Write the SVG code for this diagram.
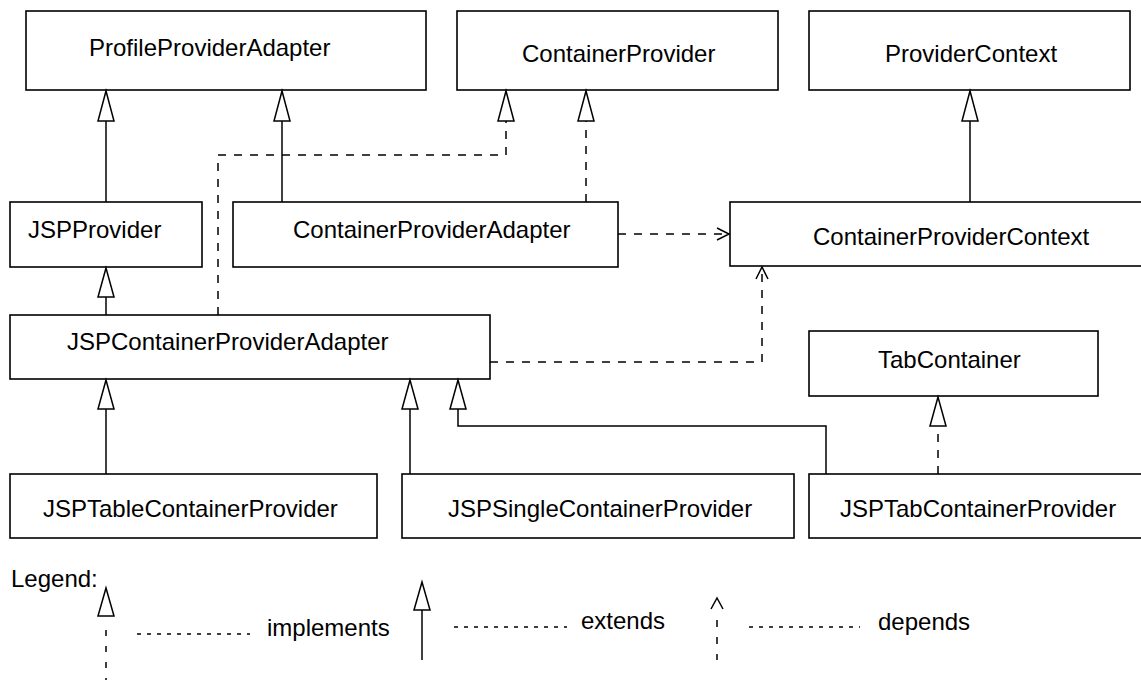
<svg xmlns="http://www.w3.org/2000/svg" width="1141" height="680" viewBox="0 0 1141 680">
<defs>
<style>
.box{fill:#fff;stroke:#000;stroke-width:1.6}
.lbl{font-family:"Liberation Sans",Arial,Helvetica,sans-serif;font-size:24px;fill:#000}
.solid{fill:none;stroke:#000;stroke-width:1.5}
.dash{fill:none;stroke:#000;stroke-width:1.5;stroke-dasharray:8 8}
.dot{fill:none;stroke:#000;stroke-width:1.3;stroke-dasharray:4 6}
.tri{fill:#fff;stroke:#000;stroke-width:1.5;stroke-linejoin:miter}
.open{fill:none;stroke:#000;stroke-width:1.5}
</style>
</defs>
<rect width="1141" height="680" fill="#fff"/>
<g id="ProfileProviderAdapter"><rect class="box" x="26" y="11" width="400" height="79"/><text class="lbl" x="89" y="56">ProfileProviderAdapter</text></g>
<g id="ContainerProvider"><rect class="box" x="457" y="11" width="321" height="79"/><text class="lbl" x="522" y="62">ContainerProvider</text></g>
<g id="ProviderContext"><rect class="box" x="809" y="11" width="321" height="79"/><text class="lbl" x="885" y="62">ProviderContext</text></g>
<g id="JSPProvider"><rect class="box" x="10" y="202" width="192" height="65"/><text class="lbl" x="28" y="238">JSPProvider</text></g>
<g id="ContainerProviderAdapter"><rect class="box" x="233" y="202" width="385" height="65"/><text class="lbl" x="293" y="238">ContainerProviderAdapter</text></g>
<g id="ContainerProviderContext"><rect class="box" x="730" y="202" width="440" height="64"/><text class="lbl" x="813" y="245">ContainerProviderContext</text></g>
<g id="JSPContainerProviderAdapter"><rect class="box" x="10" y="315" width="480" height="64"/><text class="lbl" x="67" y="350">JSPContainerProviderAdapter</text></g>
<g id="TabContainer"><rect class="box" x="809" y="331" width="289" height="65"/><text class="lbl" x="878" y="368">TabContainer</text></g>
<g id="JSPTableContainerProvider"><rect class="box" x="10" y="474" width="367" height="64"/><text class="lbl" x="43" y="517">JSPTableContainerProvider</text></g>
<g id="JSPSingleContainerProvider"><rect class="box" x="402" y="474" width="392" height="64"/><text class="lbl" x="448" y="517">JSPSingleContainerProvider</text></g>
<g id="JSPTabContainerProvider"><rect class="box" x="809" y="474" width="342" height="64"/><text class="lbl" x="840" y="517">JSPTabContainerProvider</text></g>
<g id="connectors">
<path class="solid" d="M106,202V121"/><path class="tri" d="M106,91L98,121H114Z"/>
<path class="solid" d="M282,202V121"/><path class="tri" d="M282,91L274,121H290Z"/>
<path class="dash" d="M218,315V155H506V121"/><path class="tri" d="M506,91L498,121H514Z"/>
<path class="dash" d="M586,202V121"/><path class="tri" d="M586,91L578,121H594Z"/>
<path class="solid" d="M970,202V121"/><path class="tri" d="M970,91L962,121H978Z"/>
<path class="dash" d="M618,234H729"/><path class="open" d="M717,228L729,234L717,240"/>
<path class="dash" d="M490,362H762V267"/><path class="open" d="M756,279L762,267L768,279"/>
<path class="solid" d="M106,315V297"/><path class="tri" d="M106,268L98,297H114Z"/>
<path class="solid" d="M106,474V409"/><path class="tri" d="M106,380L98,409H114Z"/>
<path class="solid" d="M410,474V409"/><path class="tri" d="M410,380L402,409H418Z"/>
<path class="solid" d="M826,474V426H458V409"/><path class="tri" d="M458,380L450,409H466Z"/>
<path class="dash" d="M938,474V426"/><path class="tri" d="M938,397L930,426H946Z"/>
</g>
<g id="legend">
<text class="lbl" x="11" y="587">Legend:</text>
<path class="tri" d="M106,588L98,616H114Z"/>
<path class="dash" style="stroke-dasharray:6 10" d="M106,630V680"/>
<path class="dot" d="M137,634H250"/>
<text class="lbl" x="267" y="636">implements</text>
<path class="tri" d="M422,582L414,610H430Z"/>
<path class="solid" d="M422,610V660"/>
<path class="dot" d="M454,627H567"/>
<text class="lbl" x="581" y="629">extends</text>
<path class="open" d="M711,609L717,598L723,609"/>
<path class="dash" style="stroke-dasharray:7 10" d="M717,620V660"/>
<path class="dot" d="M749,627H860"/>
<text class="lbl" x="878" y="630">depends</text>
</g>
</svg>
